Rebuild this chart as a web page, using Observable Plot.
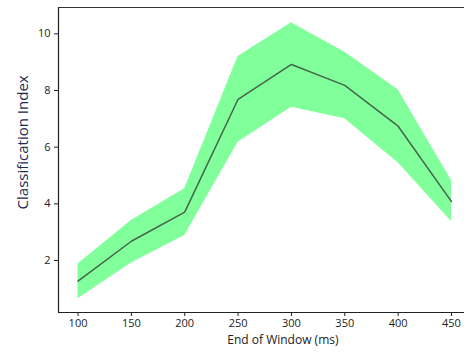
<!DOCTYPE html>
<html>
<head>
<meta charset="utf-8">
<script src="https://cdn.jsdelivr.net/npm/d3@7"></script>
<script src="https://cdn.jsdelivr.net/npm/@observablehq/plot@0.6"></script>
<style>
  html, body { margin: 0; padding: 0; background: #fff; }
  #chart svg { display: block; }
</style>
</head>
<body>
<div id="chart"></div>
<script>
const windowEnds = [100, 150, 200, 250, 300, 350, 400, 450];
const meanIndex  = [1.27, 2.68, 3.71, 7.69, 8.92, 8.18, 6.74, 4.08];
const upperIndex = [1.88, 3.41, 4.53, 9.20, 10.39, 9.35, 8.03, 4.82];
const lowerIndex = [0.65, 1.91, 2.88, 6.17, 7.41, 7.00, 5.45, 3.38];
const xTicks = [100, 150, 200, 250, 300, 350, 400, 450];
const yTicks = [2, 4, 6, 8, 10];

const data = windowEnds.map((w, i) => ({w, m: meanIndex[i], hi: upperIndex[i], lo: lowerIndex[i]}));
const xDom = [81.7, 462.2];
const yDom = [0.165, 10.93];
const font = "'Open Sans', Lato, sans-serif";

const chart = Plot.plot({
  width: 464,
  height: 354,
  marginLeft: 58,
  marginRight: 0,
  marginTop: 7,
  marginBottom: 42,
  style: {fontFamily: font, fontSize: "11px", color: "#222", background: "#fff"},
  x: {domain: xDom},
  y: {domain: yDom},
  marks: [
    Plot.areaY(data, {x: "w", y1: "lo", y2: "hi", fill: "#80ff9a", curve: "linear"}),
    Plot.lineY(data, {x: "w", y: "m", stroke: "#44654c", strokeWidth: 1.5}),
    Plot.ruleY([yDom[1]], {stroke: "#333", strokeWidth: 1.2}),
    Plot.ruleY([yDom[0]], {stroke: "#222", strokeWidth: 1.2}),
    Plot.ruleX([xDom[0]], {stroke: "#222", strokeWidth: 1.2}),
    Plot.axisX(xTicks, {tickSize: 4, tickPadding: 3, label: null, fontSize: 11, stroke: "#222"}),
    Plot.axisY(yTicks, {tickSize: 4, tickPadding: 4, label: null, fontSize: 11, stroke: "#222"}),
    Plot.text(["End of Window (ms)"], {x: 292, frameAnchor: "bottom", dy: 31, fontSize: 12, fill: "#222"}),
    Plot.text(["Classification Index"], {y: 6.17, frameAnchor: "left", textAnchor: "middle", dx: -35, rotate: -90, fontSize: 15, fill: "#1d2b4f"})
  ]
});
document.getElementById("chart").appendChild(chart);
</script>
</body>
</html>
